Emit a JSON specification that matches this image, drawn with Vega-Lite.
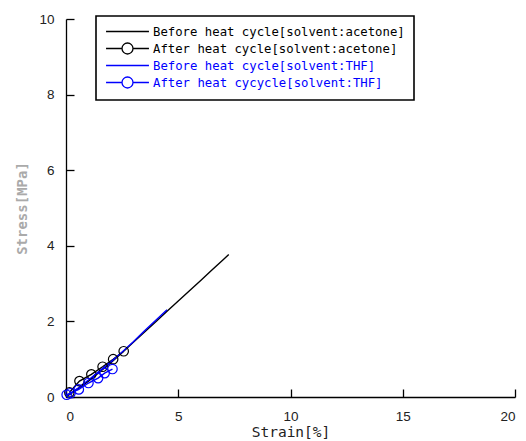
{
  "$schema": "https://vega.github.io/schema/vega-lite/v6.json",
  "autosize": "none",
  "width": 449,
  "height": 378,
  "padding": {"left": 66, "top": 19, "right": 11, "bottom": 44},
  "background": "white",
  "config": {
    "view": {"stroke": null},
    "axis": {"grid": false, "domainColor": "black", "tickColor": "black", "domainWidth": 1.3, "tickWidth": 1.3, "labelFont": "Liberation Sans", "labelFontSize": 13.5, "labelColor": "#222"}
  },
  "datasets": {
    "curves": [
      {"series": "Before heat cycle[solvent:acetone]", "strain": 0.0, "stress": 0.0},
      {"series": "Before heat cycle[solvent:acetone]", "strain": 0.5, "stress": 0.2},
      {"series": "Before heat cycle[solvent:acetone]", "strain": 1.0, "stress": 0.42},
      {"series": "Before heat cycle[solvent:acetone]", "strain": 1.5, "stress": 0.66},
      {"series": "Before heat cycle[solvent:acetone]", "strain": 2.0, "stress": 0.91},
      {"series": "Before heat cycle[solvent:acetone]", "strain": 2.57, "stress": 1.21},
      {"series": "Before heat cycle[solvent:acetone]", "strain": 3.0, "stress": 1.45},
      {"series": "Before heat cycle[solvent:acetone]", "strain": 3.5, "stress": 1.72},
      {"series": "Before heat cycle[solvent:acetone]", "strain": 4.0, "stress": 1.99},
      {"series": "Before heat cycle[solvent:acetone]", "strain": 4.5, "stress": 2.27},
      {"series": "Before heat cycle[solvent:acetone]", "strain": 5.0, "stress": 2.54},
      {"series": "Before heat cycle[solvent:acetone]", "strain": 5.5, "stress": 2.81},
      {"series": "Before heat cycle[solvent:acetone]", "strain": 6.0, "stress": 3.08},
      {"series": "Before heat cycle[solvent:acetone]", "strain": 6.5, "stress": 3.36},
      {"series": "Before heat cycle[solvent:acetone]", "strain": 7.0, "stress": 3.63},
      {"series": "Before heat cycle[solvent:acetone]", "strain": 7.25, "stress": 3.77},
      {"series": "After heat cycle[solvent:acetone]", "strain": 0.15, "stress": 0.12},
      {"series": "After heat cycle[solvent:acetone]", "strain": 0.6, "stress": 0.42},
      {"series": "After heat cycle[solvent:acetone]", "strain": 1.13, "stress": 0.6},
      {"series": "After heat cycle[solvent:acetone]", "strain": 1.63, "stress": 0.8},
      {"series": "After heat cycle[solvent:acetone]", "strain": 2.1, "stress": 1.0},
      {"series": "After heat cycle[solvent:acetone]", "strain": 2.57, "stress": 1.21},
      {"series": "Before heat cycle[solvent:THF]", "strain": 0.0, "stress": 0.02},
      {"series": "Before heat cycle[solvent:THF]", "strain": 0.5, "stress": 0.22},
      {"series": "Before heat cycle[solvent:THF]", "strain": 1.0, "stress": 0.45},
      {"series": "Before heat cycle[solvent:THF]", "strain": 1.5, "stress": 0.69},
      {"series": "Before heat cycle[solvent:THF]", "strain": 2.0, "stress": 0.93},
      {"series": "Before heat cycle[solvent:THF]", "strain": 2.5, "stress": 1.19},
      {"series": "Before heat cycle[solvent:THF]", "strain": 3.0, "stress": 1.46},
      {"series": "Before heat cycle[solvent:THF]", "strain": 3.5, "stress": 1.75},
      {"series": "Before heat cycle[solvent:THF]", "strain": 4.0, "stress": 2.03},
      {"series": "Before heat cycle[solvent:THF]", "strain": 4.5, "stress": 2.31},
      {"series": "After heat cycycle[solvent:THF]", "strain": 0.03, "stress": 0.06},
      {"series": "After heat cycycle[solvent:THF]", "strain": 0.2, "stress": 0.1},
      {"series": "After heat cycycle[solvent:THF]", "strain": 0.57, "stress": 0.2},
      {"series": "After heat cycycle[solvent:THF]", "strain": 1.0, "stress": 0.37},
      {"series": "After heat cycycle[solvent:THF]", "strain": 1.43, "stress": 0.5},
      {"series": "After heat cycycle[solvent:THF]", "strain": 1.72, "stress": 0.63},
      {"series": "After heat cycycle[solvent:THF]", "strain": 2.07, "stress": 0.74}
    ]
  },
  "data": {"name": "curves"},
  "encoding": {
    "x": {"field": "strain", "type": "quantitative", "scale": {"domain": [0, 20], "nice": false, "zero": false},
      "axis": {"values": [0, 5, 10, 15, 20], "tickSize": -8, "labelPadding": 20, "title": "Strain[%]", "titleFont": "DejaVu Sans Mono", "titleFontSize": 14.5, "titleFontWeight": "normal", "titleColor": "#222", "titlePadding": 3}},
    "y": {"field": "stress", "type": "quantitative", "scale": {"domain": [0, 10], "nice": false, "zero": false},
      "axis": {"values": [0, 2, 4, 6, 8, 10], "tickSize": -8, "labelPadding": 20, "title": "Stress[MPa]", "titleFont": "DejaVu Sans Mono", "titleFontSize": 14, "titleFontWeight": "bold", "titleColor": "#aaaaaa", "titlePadding": 9}},
    "color": {"field": "series", "type": "nominal",
      "scale": {"domain": ["Before heat cycle[solvent:acetone]", "After heat cycle[solvent:acetone]", "Before heat cycle[solvent:THF]", "After heat cycycle[solvent:THF]"], "range": ["#000000", "#000000", "#0000ff", "#0000ff"]},
      "legend": {
        "title": null, "orient": "none", "legendX": 30, "legendY": -3,
        "strokeColor": "black", "padding": 9, "rowPadding": 2,
        "labelFont": "DejaVu Sans Mono", "labelFontSize": 12.3, "labelOffset": 35, "labelLimit": 400,
        "symbolStrokeWidth": 1.3,
        "encode": {
          "legend": {"update": {"strokeWidth": {"value": 1.6}}},
          "symbols": {"update": {
            "shape": {"signal": "indexof(datum.value, 'After') >= 0 ? 'M-3.9,0L-1,0M1,0A1,1 0 1 1 -1,0A1,1 0 1 1 1,0M1,0L3.9,0' : 'M-3.9,0L3.9,0'"},
            "size": {"value": 121},
            "x": {"value": 22.5},
            "fill": {"value": "transparent"}
          }},
          "labels": {"update": {"fill": {"signal": "indexof(datum.value, 'THF') >= 0 ? '#0000ff' : '#000000'"}}}
        }
      }}
  },
  "layer": [
    {"mark": {"type": "line", "strokeWidth": 1.4}},
    {"transform": [{"filter": "indexof(datum.series, 'After') >= 0"}],
     "mark": {"type": "point", "shape": "circle", "filled": false, "size": 90, "strokeWidth": 1.2, "opacity": 1}}
  ]
}
